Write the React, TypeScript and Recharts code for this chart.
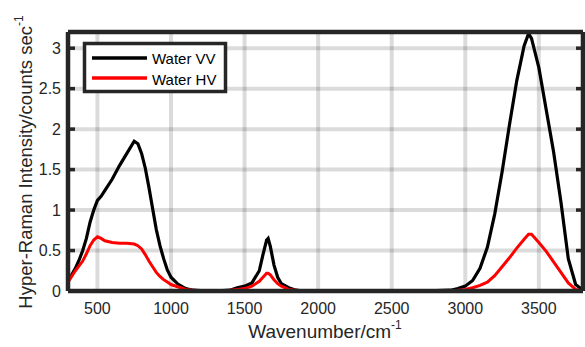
import { LineChart, Line, XAxis, YAxis, CartesianGrid } from 'recharts';

const WAVENUMBER = [
  300, 325, 350, 375, 400, 425, 450, 475, 500, 525, 550, 600, 650, 700, 750, 775, 800, 825, 850, 875,
  900, 925, 950, 975, 1000, 1050, 1100, 1150, 1200, 1300, 1400, 1450, 1500, 1550, 1600, 1625, 1650,
  1660, 1675, 1700, 1725, 1750, 1800, 1850, 1900, 2000, 2200, 2400, 2600, 2800, 2900, 2950, 3000,
  3050, 3100, 3150, 3200, 3250, 3300, 3350, 3400, 3430, 3450, 3500, 3550, 3600, 3650, 3700, 3750, 3800,
];

const WATER_VV = [
  0.13, 0.2, 0.28, 0.38, 0.5, 0.65, 0.85, 1.0, 1.12, 1.17, 1.24, 1.38, 1.55, 1.7, 1.85, 1.82, 1.7,
  1.52, 1.28, 1.02, 0.76, 0.56, 0.4, 0.26, 0.17, 0.08, 0.03, 0.01, 0.005, 0, 0.01, 0.04, 0.06, 0.1,
  0.25, 0.45, 0.63, 0.65, 0.55, 0.32, 0.17, 0.09, 0.04, 0.01, 0, 0.005, 0, 0.005, 0, 0.005, 0.01,
  0.03, 0.06, 0.13, 0.28, 0.54, 0.95, 1.47, 2.05, 2.6, 3.03, 3.18, 3.12, 2.76, 2.24, 1.72, 1.1,
  0.4, 0.08, 0.01,
];

const WATER_HV = [
  0.11, 0.18, 0.25, 0.31, 0.37, 0.46, 0.56, 0.63, 0.67, 0.65, 0.62, 0.6, 0.59, 0.59, 0.58, 0.56,
  0.52, 0.45, 0.37, 0.3, 0.23, 0.18, 0.14, 0.11, 0.08, 0.05, 0.02, 0.01, 0, 0, 0.01, 0.02, 0.03,
  0.06, 0.12, 0.17, 0.22, 0.22, 0.2, 0.14, 0.09, 0.06, 0.02, 0.01, 0, 0, 0.005, 0, 0.005, 0, 0.005,
  0.01, 0.02, 0.04, 0.07, 0.11, 0.19, 0.3, 0.41, 0.53, 0.64, 0.7, 0.7, 0.6, 0.49, 0.36, 0.23, 0.1,
  0.02, 0,
];

const X_TICKS = [500, 1000, 1500, 2000, 2500, 3000, 3500];
const Y_TICKS = [0, 0.5, 1, 1.5, 2, 2.5, 3];

const rows = WAVENUMBER.map((x, i) => ({ x, vv: WATER_VV[i], hv: WATER_HV[i] }));

const AX = '#262626';
const FONT = '"Liberation Sans", Arial, sans-serif';
const tickMark = { stroke: AX, strokeWidth: 3.5 };
const frame = { stroke: AX, strokeWidth: 4.5 };
// inward tick marks only, no label text
const noLabel = () => <g />;

export default function App() {
  return (
    <div style={{ position: 'absolute', left: 0, top: 0, background: '#fff', fontFamily: FONT }}>
      <LineChart
        width={585}
        height={347}
        data={rows}
        margin={{ top: 32, right: 2, bottom: 16, left: 8 }}
      >
        <CartesianGrid
          xAxisId="b"
          yAxisId="l"
          stroke="rgba(0,0,0,0.14)"
          strokeWidth={4}
        />

        {/* bottom: labels + frame, then inward ticks */}
        <XAxis
          xAxisId="b"
          type="number"
          dataKey="x"
          domain={[300, 3800]}
          ticks={X_TICKS}
          allowDataOverflow
          height={40}
          tickLine={false}
          tickSize={0}
          tickMargin={12}
          axisLine={frame}
          tick={{ fill: AX, fontSize: 16, fontFamily: FONT }}
        />
        <XAxis
          xAxisId="bm"
          type="number"
          domain={[300, 3800]}
          ticks={X_TICKS}
          allowDataOverflow
          mirror
          tick={noLabel}
          tickLine={tickMark}
          tickSize={7}
          axisLine={false}
        />
        <XAxis
          xAxisId="t"
          orientation="top"
          type="number"
          domain={[300, 3800]}
          ticks={X_TICKS}
          allowDataOverflow
          mirror
          tick={noLabel}
          tickLine={tickMark}
          tickSize={7}
          axisLine={frame}
        />

        {/* left: labels + frame, then inward ticks; right: frame + ticks */}
        <YAxis
          yAxisId="l"
          type="number"
          domain={[0, 3.2]}
          ticks={Y_TICKS}
          allowDataOverflow
          width={60}
          tickLine={false}
          tickSize={0}
          tickMargin={7}
          axisLine={frame}
          tick={{ fill: AX, fontSize: 16, fontFamily: FONT }}
        />
        <YAxis
          yAxisId="lm"
          type="number"
          domain={[0, 3.2]}
          ticks={Y_TICKS}
          allowDataOverflow
          mirror
          tick={noLabel}
          tickLine={tickMark}
          tickSize={7}
          axisLine={false}
        />
        <YAxis
          yAxisId="r"
          orientation="right"
          type="number"
          domain={[0, 3.2]}
          ticks={Y_TICKS}
          allowDataOverflow
          mirror
          tick={noLabel}
          tickLine={tickMark}
          tickSize={7}
          axisLine={frame}
        />

        <Line
          xAxisId="b"
          yAxisId="l"
          dataKey="vv"
          type="linear"
          stroke="#000000"
          strokeWidth={3.2}
          dot={false}
          isAnimationActive={false}
        />
        <Line
          xAxisId="b"
          yAxisId="l"
          dataKey="hv"
          type="linear"
          stroke="#ff0000"
          strokeWidth={3}
          dot={false}
          isAnimationActive={false}
        />

        {/* axis titles */}
        <text x={325} y={338} textAnchor="middle" fill={AX} fontSize={19} fontFamily={FONT}>
          Wavenumber/cm
          <tspan dy={-9} fontSize={12}>-1</tspan>
        </text>
        <text
          transform="rotate(-90)"
          x={-162}
          y={32}
          textAnchor="middle"
          fill={AX}
          fontSize={18.5}
          fontFamily={FONT}
        >
          Hyper-Raman Intensity/counts sec
          <tspan dy={-9} fontSize={12}>-1</tspan>
        </text>

        {/* legend */}
        <g>
          <rect x={84.5} y={43.5} width={141} height={48} fill="#fff" stroke={AX} strokeWidth={3.5} />
          <line x1={92} x2={147} y1={58} y2={58} stroke="#000" strokeWidth={3.5} />
          <line x1={92} x2={147} y1={78} y2={78} stroke="#ff0000" strokeWidth={3.5} />
          <text x={152} y={64} fontSize={15} fill="#000" fontFamily={FONT}>Water VV</text>
          <text x={152} y={84.5} fontSize={15} fill="#000" fontFamily={FONT}>Water HV</text>
        </g>
      </LineChart>
    </div>
  );
}
